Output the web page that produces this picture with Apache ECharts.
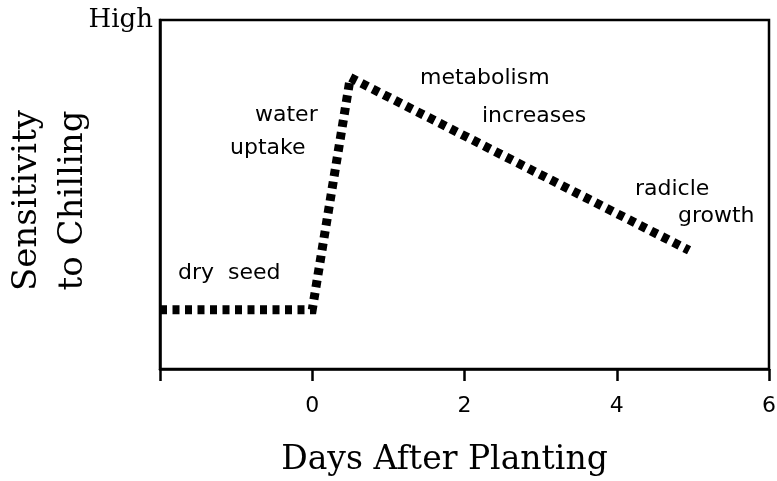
<!DOCTYPE html>
<html>
<head>
<meta charset="utf-8">
<script src="https://cdn.jsdelivr.net/npm/echarts@6/dist/echarts.min.js"></script>
<style>
  html, body { margin: 0; padding: 0; background: #fff; }
  #chart { width: 777px; height: 481px; }
</style>
</head>
<body>
<div id="chart"></div>
<script>
// days after planting vs relative sensitivity (0 = low, 10 = high)
const days = [-2, 0, 0.5, 4.95];
const sensitivity = [1.7, 1.7, 8.35, 3.4];
const xTicks = [-2, 0, 2, 4, 6];
const yTopLabel = 'High';

// stage notes
const notes = [
  { text: 'water', x: 255, y: 117 },
  { text: 'uptake', x: 230, y: 150 },
  { text: 'metabolism', x: 420, y: 80 },
  { text: 'increases', x: 482, y: 118 },
  { text: 'radicle', x: 635, y: 191 },
  { text: 'growth', x: 678, y: 218 },
  { text: 'dry  seed', x: 178, y: 275 }
];

const chart = echarts.init(document.getElementById('chart'));
const serif = 'DejaVu Serif';
const sans = 'DejaVu Sans';

const option = {
  animation: false,
  grid: {
    left: 160, right: 8, top: 20, bottom: 112,
    containLabel: false, outerBoundsMode: 'none',
    show: true, borderColor: '#000', borderWidth: 2.5
  },
  xAxis: {
    type: 'value',
    min: xTicks[0], max: xTicks[xTicks.length - 1], interval: 2,
    axisLine: { show: true, onZero: false, lineStyle: { color: '#000', width: 2.5 } },
    axisTick: { show: true, length: 12, inside: false, lineStyle: { color: '#000', width: 2.5 } },
    splitLine: { show: false },
    axisLabel: {
      margin: 26, color: '#000', fontFamily: sans, fontSize: 22,
      formatter: v => (v === xTicks[0] ? '' : String(v))
    },
    name: 'Days After Planting',
    nameLocation: 'middle',
    nameGap: 75,
    nameMoveOverlap: false,
    nameTextStyle: { color: '#000', fontFamily: serif, fontSize: 33, padding: [0, 40, 0, 0] }
  },
  yAxis: {
    type: 'value',
    min: 0, max: 10, interval: 10,
    axisLine: { show: true, onZero: false, lineStyle: { color: '#000', width: 2.5 } },
    axisTick: { show: false },
    splitLine: { show: false },
    axisLabel: {
      margin: 7, color: '#000', fontFamily: serif, fontSize: 26,
      formatter: v => (v === 10 ? yTopLabel : '')
    },
    name: 'Sensitivity\nto Chilling',
    nameLocation: 'middle',
    nameRotate: 90,
    nameGap: 64,
    nameMoveOverlap: false,
    nameTextStyle: { color: '#000', fontFamily: serif, fontSize: 34, lineHeight: 46, padding: [0, 12, 0, 0] }
  },
  series: [{
    type: 'line',
    data: days.map((d, i) => [d, sensitivity[i]]),
    showSymbol: false,
    lineStyle: { color: '#000', width: 9, type: [7, 5.5], cap: 'butt', join: 'miter' }
  }],
  graphic: notes.map(n => ({
    type: 'text',
    left: n.x,
    top: n.y - 13,
    style: { text: n.text, font: '22px ' + sans, fill: '#000' }
  }))
};

chart.setOption(option);
window.addEventListener('resize', () => chart.resize());
</script>
</body>
</html>
